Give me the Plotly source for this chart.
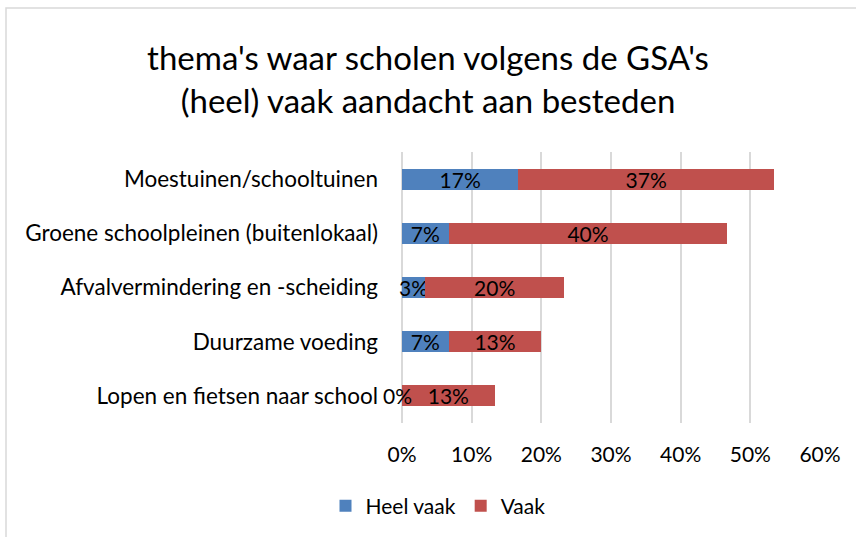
import plotly.graph_objects as go

categories = ["Moestuinen/schooltuinen", "Groene schoolpleinen (buitenlokaal)",
              "Afvalvermindering en -scheiding", "Duurzame voeding",
              "Lopen en fietsen naar school"]
heel_vaak = [16.7, 6.7, 3.3, 6.7, 0.0]
vaak = [36.7, 40.0, 20.0, 13.3, 13.3]
tick_vals = [0, 10, 20, 30, 40, 50, 60]
tick_text = ["0%", "10%", "20%", "30%", "40%", "50%", "60%"]

FONT = "Lato, 'Open Sans', sans-serif"
W, H = 856, 537
ML, MR, MT, MB = 402, 36, 152, 114

fig = go.Figure()
for name, vals, col in [("Heel vaak", heel_vaak, "#4f81bd"), ("Vaak", vaak, "#c0504d")]:
    fig.add_trace(go.Bar(
        y=categories, x=vals, name=name, orientation="h",
        marker=dict(color=col, line=dict(width=0)),
        texttemplate="%{x:.0f}%", textposition="inside",
        insidetextanchor="middle", textangle=0,
        textfont=dict(color="black", size=21, family=FONT),
        cliponaxis=False, width=0.39,
    ))

# labels for zero-width segments (bar text is not drawn for them)
for cat, v in zip(categories, heel_vaak):
    if v == 0:
        fig.add_annotation(x=v, y=cat, text=f"{v:.0f}%", showarrow=False,
                           xanchor="center", xshift=-5,
                           font=dict(size=21, family=FONT, color="black"))

pw = W - ML - MR
ph = H - MT - MB
fig.add_shape(type="rect", xref="paper", yref="paper",
              x0=(6 - ML) / pw, x1=(W + 10 - ML) / pw,
              y0=-(H + 10 - MT - ph) / ph, y1=(H - 8 - MB) / ph,
              line=dict(color="#d9d9d9", width=1.5), layer="below")

fig.update_layout(
    width=W, height=H, barmode="stack",
    margin=dict(l=ML, r=MR, t=MT, b=MB, autoexpand=False),
    paper_bgcolor="white", plot_bgcolor="white",
    font=dict(family=FONT, size=21, color="black"),
    title=dict(text="thema's waar scholen volgens de GSA's<br>(heel) vaak aandacht aan besteden",
               x=428 / W, xref="container", xanchor="center", y=0.869, yanchor="top",
               font=dict(size=33, family=FONT, color="black")),
    uniformtext=dict(minsize=21, mode="show"),
    xaxis=dict(range=[0, 60], tickvals=tick_vals, ticktext=tick_text,
               showgrid=True, gridcolor="#d9d9d9", gridwidth=1.5,
               zeroline=True, zerolinecolor="#d9d9d9", zerolinewidth=1.5,
               showline=False, ticks="", ticklabelstandoff=17,
               tickfont=dict(size=21)),
    yaxis=dict(autorange="reversed", showgrid=False, zeroline=False,
               showline=False, ticks="", ticklabelstandoff=23,
               tickfont=dict(size=22.5)),
    legend=dict(orientation="h", x=438 / W, xref="container",
                xanchor="center", y=(H - 506) / H, yref="container", yanchor="middle",
                font=dict(size=21), traceorder="normal", itemwidth=30),
    showlegend=True,
)

fig.write_html("out.html", config={"displayModeBar": False},
               post_script="document.body.style.margin='0px';")
